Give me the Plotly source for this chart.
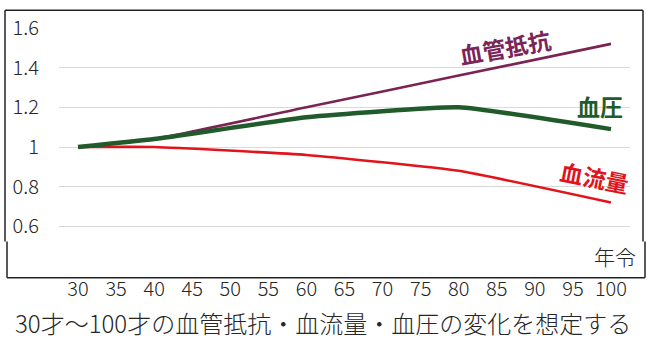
import plotly.graph_objects as go

# Age categories and relative change (30 years = 1.0)
ages = [30, 40, 60, 80, 100]
resistance = [1.00, 1.04, 1.20, 1.36, 1.52]   # 血管抵抗
pressure = [1.00, 1.04, 1.15, 1.20, 1.09]     # 血圧
flow = [1.00, 1.00, 0.96, 0.88, 0.72]         # 血流量

x_ticks = list(range(30, 101, 5))
y_ticks = [0.4, 0.6, 0.8, 1.0, 1.2, 1.4, 1.6]
y_labels = ["", "0.6", "0.8", "1", "1.2", "1.4", "1.6"]

W, H = 653, 343
L, T, PW, PH = 59, 24, 571, 242
FONT = "Noto Sans CJK JP, sans-serif"


def px(x):
    return (x - L) / PW


def py(y):
    return 1 - (y - T) / PH


fig = go.Figure()
fig.add_trace(go.Scatter(x=ages, y=resistance, mode="lines",
                         line=dict(color="#7B2453", width=2.6, shape="spline", smoothing=0.4)))
fig.add_trace(go.Scatter(x=ages, y=flow, mode="lines",
                         line=dict(color="#E2141B", width=2.6, shape="spline", smoothing=0.4)))
fig.add_trace(go.Scatter(x=ages, y=pressure, mode="lines",
                         line=dict(color="#215A2B", width=4.5, shape="spline", smoothing=0.4)))

# outer frame
frame = [
    (5, 6, 643, 6), (643, 6, 643, 241), (5, 6, 5, 241),
    (7, 241, 7, 278), (7, 278, 645, 278), (645, 241, 645, 278),
]
for x0, y0, x1, y1 in frame:
    fig.add_shape(type="line", xref="paper", yref="paper",
                  x0=px(x0), y0=py(y0), x1=px(x1), y1=py(y1),
                  line=dict(color="#222222", width=1.5))

ann = [
    dict(text="<b>血管抵抗</b>", x=px(505), y=py(43), color="#7B2458", angle=-10),
    dict(text="<b>血圧</b>", x=px(600), y=py(103), color="#1F5C2C", angle=0),
    dict(text="<b>血流量</b>", x=px(594), y=py(176), color="#E0141C", angle=11),
]
for a in ann:
    fig.add_annotation(text=a["text"], x=a["x"], y=a["y"], xref="paper", yref="paper",
                       showarrow=False, textangle=a["angle"], xanchor="center", yanchor="middle",
                       font=dict(family=FONT, size=23, color=a["color"]))

fig.add_annotation(text="年令", x=px(638), y=py(256), xref="paper", yref="paper",
                   showarrow=False, xanchor="right", yanchor="middle", bgcolor="white",
                   font=dict(family=FONT, size=21, color="#262626", weight=300))

fig.add_annotation(text="30才～100才の血管抵抗・血流量・血圧の変化を想定する",
                   x=px(323), y=py(323), xref="paper", yref="paper",
                   showarrow=False, xanchor="center", yanchor="middle",
                   font=dict(family=FONT, size=24, color="#262626", weight=300))

tick_font = dict(family=FONT, size=20, color="#262626", weight=300)
fig.update_layout(
    width=W, height=H,
    margin=dict(l=L, r=W - L - PW, t=T, b=H - T - PH),
    paper_bgcolor="white", plot_bgcolor="white",
    showlegend=False,
    xaxis=dict(range=[27.5, 102.5], tickvals=x_ticks, showgrid=False, zeroline=False,
               showline=False, ticks="", ticklabelstandoff=9, tickfont=tick_font),
    yaxis=dict(range=[0.4, 1.6], tickvals=y_ticks, ticktext=y_labels, showgrid=True,
               gridcolor="#D9D9D9", gridwidth=1, zeroline=False, showline=False, ticks="",
               ticklabelstandoff=19, tickfont=tick_font),
)

fig.write_html("out.html")
